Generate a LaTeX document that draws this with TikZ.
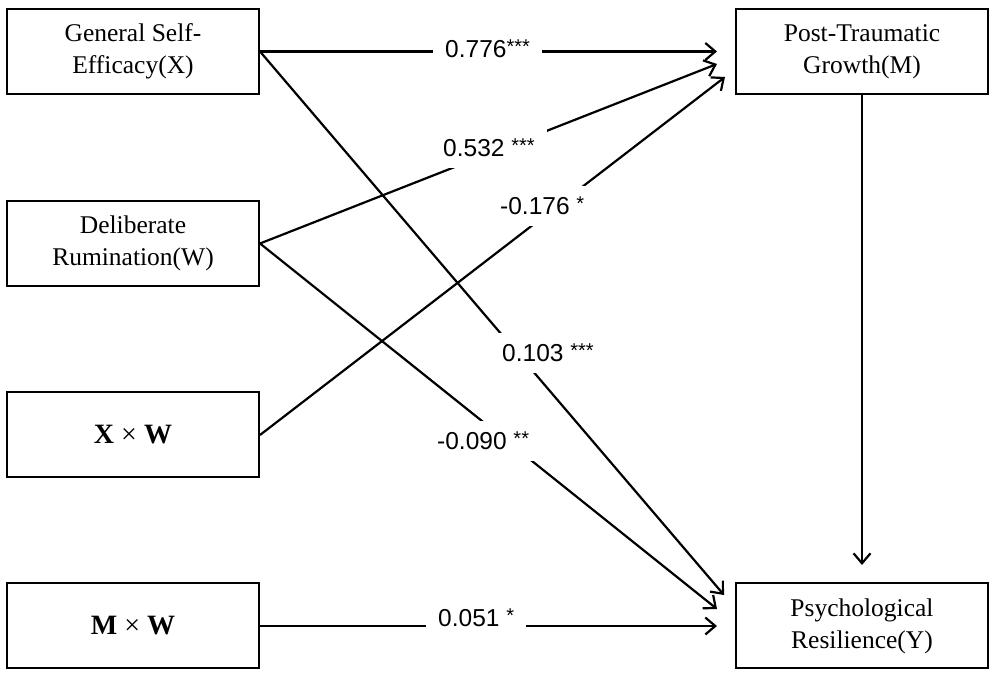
\documentclass[tikz,border=0pt]{standalone}
\usepackage{fontspec}
\setmainfont{Liberation Serif}
\newfontfamily\lsans{Liberation Sans}
\usetikzlibrary{arrows.meta}
\newcommand\stars[1]{\raisebox{4pt}{\fontsize{20}{20}\selectfont #1}}
\begin{document}
\begin{tikzpicture}[x=1pt,y=1pt,
 box/.style={draw, line width=2pt, minimum width=252pt, minimum height=85pt, inner sep=0pt, align=center, font=\fontsize{25.5}{32}\selectfont},
 conn/.style={line width=2.2pt, -{Straight Barb[length=10pt,width=17pt,line width=2.2pt]}},
 coef/.style={fill=white, inner xsep=12pt, inner ysep=11pt, anchor=base west, font=\lsans\fontsize{24.5}{28}\selectfont}
]
\useasboundingbox (0,0) rectangle (992,679);
\node[box] (X) at (133,627.5) {General Self-\\Efficacy(X)};
\node[box] (W) at (133,435.5) {Deliberate\\Rumination(W)};
\node[box] (XW) at (133,244) {\fontsize{28}{32}\selectfont\textbf{X} × \textbf{W}};
\node[box] (MW) at (133,53) {\fontsize{28}{32}\selectfont\textbf{M} × \textbf{W}};
\node[box] (M) at (862,627.5) {Post-Traumatic\\Growth(M)};
\node[box] (Y) at (862,53) {Psychological\\Resilience(Y)};

\coordinate (tXM) at (717,627.5);
\coordinate (tWM) at (717,615);
\coordinate (tXWM) at (725,602);
\coordinate (tXY) at (724,84);
\coordinate (tWY) at (717,70);
\coordinate (tMWY) at (717,53);
\coordinate (tMY) at (862,114);

\draw[conn] (X.east) -- (tXM);
\draw[conn] (W.east) -- (tWM);
\draw[conn] (XW.east) -- (tXWM);
\draw[conn] (X.east) -- (tXY);
\draw[conn] (W.east) -- (tWY);
\draw[conn] (MW.east) -- (tMWY);
\draw[conn] (M.south) -- (tMY);

\node[coef] (l1) at (433,621) {0.776\stars{***}};
\node[coef] (l2) at (431,522) {0.532 \stars{***}};
\node[coef] (l3) at (488,464) {-0.176 \stars{*}};
\node[coef] (l4) at (490,317) {0.103 \stars{***}};
\node[coef] (l5) at (425,229) {-0.090 \stars{**}};
\node[coef] (l6) at (426,52) {0.051 \stars{*}};
\end{tikzpicture}
\end{document}
